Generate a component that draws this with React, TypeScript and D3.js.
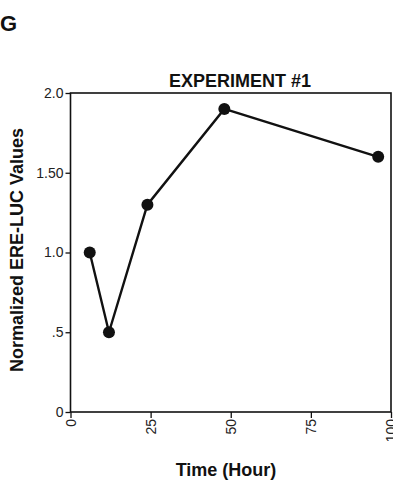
import React, { useEffect, useRef } from 'react';
import * as d3 from 'd3';

// data
const hours = [6, 12, 24, 48, 96];
const values = [1.0, 0.5, 1.3, 1.9, 1.6];

const yTicks = [0, 0.5, 1.0, 1.5, 2.0];
const yTickLabels = ["0", ".5", "1.0", "1.50", "2.0"];
const xTicks = [0, 25, 50, 75, 100];
const xTickLabels = ["0", "25", "50", "75", "100"];

const W = 393, H = 482;
const margin = { left: 70.5, top: 93, right: 2, bottom: 70 };

export default function App() {
  const ref = useRef(null);

  useEffect(() => {
    const root = d3.select(ref.current);
    root.selectAll("*").remove();

    const width = W - margin.left - margin.right;
    const height = H - margin.top - margin.bottom;
    const font = "'Liberation Sans', Arial, Helvetica, sans-serif";

    const svg = root.append('g')
      .attr('transform', `translate(${margin.left},${margin.top})`);

    const x = d3.scaleLinear().domain([0, 100]).range([0, width]);
    const y = d3.scaleLinear().domain([0, 2]).range([height, 0]);

    // frame
    svg.append("rect")
      .attr("x", 0).attr("y", 0)
      .attr("width", width).attr("height", height)
      .attr("fill", "none")
      .attr("stroke", "#111")
      .attr("stroke-width", 1.6);

    // Axe des Y
    const yAxis = svg.append("g")
      .call(d3.axisLeft(y).tickValues(yTicks).tickSize(5).tickSizeOuter(0)
        .tickFormat((d, i) => yTickLabels[i]));
    yAxis.select(".domain").remove();
    yAxis.selectAll("line").attr("stroke", "#111").attr("stroke-width", 1.3);
    yAxis.selectAll("text")
      .attr("x", -7)
      .style("font-family", font)
      .style("font-size", "14px")
      .attr("fill", "#222");

    // Axe des X
    const xAxis = svg.append("g")
      .attr("transform", `translate(0,${height})`)
      .call(d3.axisBottom(x).tickValues(xTicks).tickSize(6).tickSizeOuter(0)
        .tickFormat((d, i) => xTickLabels[i]));
    xAxis.select(".domain").remove();
    xAxis.selectAll("line").attr("stroke", "#111").attr("stroke-width", 1.3);
    xAxis.selectAll("text")
      .attr("transform", "rotate(-90)")
      .attr("x", -7)
      .attr("y", 0)
      .attr("dy", "0.35em")
      .style("text-anchor", "end")
      .style("font-family", font)
      .style("font-size", "14px")
      .attr("fill", "#222");

    // line + dots
    const pts = hours.map((h, i) => ({ h, v: values[i] }));
    svg.append("path")
      .datum(pts)
      .attr("fill", "none")
      .attr("stroke", "#111")
      .attr("stroke-width", 2.4)
      .attr("d", d3.line().x(d => x(d.h)).y(d => y(d.v)));

    svg.selectAll(".dot")
      .data(pts)
      .join("circle")
      .attr("class", "dot")
      .attr("cx", d => x(d.h))
      .attr("cy", d => y(d.v))
      .attr("r", 6)
      .attr("fill", "#111");

    // titles
    root.append("text")
      .attr("x", 0).attr("y", 31)
      .style("font-family", font).style("font-weight", "bold").style("font-size", "22px")
      .attr("fill", "#111")
      .text("G");

    root.append("text")
      .attr("x", 240).attr("y", 87)
      .attr("text-anchor", "middle")
      .style("font-family", font).style("font-weight", "bold").style("font-size", "18px")
      .attr("fill", "#111")
      .text("EXPERIMENT #1");

    root.append("text")
      .attr("x", 226).attr("y", 476)
      .attr("text-anchor", "middle")
      .style("font-family", font).style("font-weight", "bold").style("font-size", "18px")
      .attr("fill", "#111")
      .text("Time (Hour)");

    root.append("text")
      .attr("transform", `translate(23,250) rotate(-90)`)
      .attr("text-anchor", "middle")
      .style("font-family", font).style("font-weight", "bold").style("font-size", "18px")
      .attr("fill", "#111")
      .text("Normalized ERE-LUC Values");
  }, []);

  return (
    <svg ref={ref} width={W} height={H}
      style={{ position: "absolute", left: 0, top: 0, background: "#fff" }} />
  );
}
